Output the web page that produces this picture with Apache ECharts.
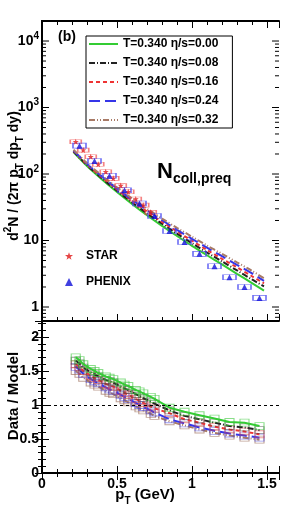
<!DOCTYPE html>
<html><head><meta charset="utf-8">
<script src="https://cdn.jsdelivr.net/npm/echarts@6/dist/echarts.min.js"></script>
<style>html,body{margin:0;padding:0;background:#fff}#c{width:291px;height:511px}</style>
</head><body><div id="c"></div>
<script>
// ---- data ----
const modelNames = ['T=0.340 η/s=0.00','T=0.340 η/s=0.08','T=0.340 η/s=0.16','T=0.340 η/s=0.24','T=0.340 η/s=0.32'];
const pTModel   = [0.21,0.3,0.4,0.5,0.6,0.7,0.8,0.9,1.0,1.1,1.2,1.3,1.4,1.48];
const modelEta00 = [214,132,83,53.7,35.5,24,16.6,11.7,8.3,6.0,4.37,3.16,2.29,1.76];
const modelEta08 = [218,136,86,56,37.5,25.6,17.9,12.7,9.1,6.6,4.85,3.55,2.6,2.05];
const modelEta16 = [222,139,89,58.5,39.5,27.2,19.1,13.7,9.9,7.2,5.3,3.95,2.9,2.27];
const modelEta24 = [226,142,91.5,60.5,41,28.5,20.2,14.5,10.6,7.8,5.8,4.3,3.2,2.48];
const modelEta32 = [232,146,94.5,63,43,30,21.4,15.5,11.4,8.4,6.3,4.7,3.5,2.7];

const pTStar = [0.225,0.275,0.325,0.375,0.425,0.475,0.525,0.575,0.625,0.675,0.725];
const yStar  = [306,229,182,140,108,86,67,54,42,34,26.5];
const pTPhenix = [0.25,0.35,0.45,0.55,0.65,0.75,0.85,0.95,1.05,1.15,1.25,1.35,1.45];
const yPhenix  = [267,157,94,57,36,23.4,13.9,9.5,6.3,4.1,2.8,2.0,1.37];

const pTRatio = [0.225,0.25,0.275,0.325,0.35,0.375,0.425,0.45,0.475,0.525,0.55,0.575,0.625,0.65,0.675,0.725,0.75,0.85,0.95,1.05,1.15,1.25,1.35,1.45];
const ratioEta00 = [1.70,1.66,1.60,1.53,1.50,1.47,1.42,1.40,1.38,1.33,1.30,1.28,1.22,1.20,1.17,1.12,1.09,0.96,0.90,0.85,0.80,0.75,0.74,0.69];
const ratioEta08 = [1.65,1.61,1.55,1.48,1.45,1.42,1.37,1.35,1.33,1.27,1.24,1.22,1.16,1.13,1.10,1.05,1.02,0.92,0.84,0.79,0.74,0.69,0.67,0.63];
const ratioEta16 = [1.60,1.56,1.50,1.43,1.40,1.37,1.31,1.29,1.27,1.21,1.18,1.15,1.09,1.06,1.03,0.98,0.95,0.88,0.79,0.74,0.68,0.64,0.61,0.57];
const ratioEta24 = [1.56,1.52,1.46,1.38,1.35,1.32,1.26,1.23,1.21,1.15,1.12,1.09,1.03,1.00,0.97,0.92,0.89,0.79,0.73,0.67,0.62,0.58,0.55,0.52];
const ratioEta32 = [1.50,1.46,1.40,1.33,1.30,1.27,1.21,1.18,1.16,1.10,1.07,1.04,0.98,0.95,0.92,0.87,0.84,0.76,0.70,0.64,0.59,0.55,0.52,0.49];

const xTickLabels = ['0','0.5','1','1.5'];
const logDecades = [0,1,2,3,4];

// ---- styling ----
const FONT = 'Liberation Sans';
const colors = ['#33cc33','#222222','#ee3333','#3535e8','#a87a66'];
const boxColors = ['rgba(60,200,60,0.6)','rgba(60,60,60,0.55)','rgba(230,70,70,0.55)','rgba(70,70,230,0.55)','rgba(150,100,80,0.6)'];
const dashes = ['solid',[6,2,1,2],[4,3],[11,5],[6,2,1,2,1,2]];
const models = [modelEta00,modelEta08,modelEta16,modelEta24,modelEta32];
const ratios = [ratioEta00,ratioEta08,ratioEta16,ratioEta24,ratioEta32];
const starPath = 'path://M0,-10 L2.35,-3.24 9.51,-3.09 3.8,1.24 5.88,8.09 0,4 -5.88,8.09 -3.8,1.24 -9.51,-3.09 -2.35,-3.24Z';

const Y_MIN = 0.616, Y_MAX = 20000;
const logTicks = [];
for (let d = -1; d <= 4; d++) for (let k = 1; k <= 9; k++) {
  const v = k * Math.pow(10, d);
  if (v > Y_MIN && v < Y_MAX) logTicks.push([0.5, v, k === 1 ? 7 : 4]);
}

const zip = (a, b) => a.map((v, i) => [v, b[i]]);
const axLine = {show:true, lineStyle:{color:'#000', width:2}};
const tick = {show:true, inside:true, length:7, lineStyle:{color:'#000', width:1}};
const minor = {show:true, splitNumber:5, length:4, lineStyle:{color:'#000', width:1}};
const lblFont = {fontFamily:FONT, fontWeight:'bold', fontSize:14, color:'#000'};

function xAx(grid, pos, showLabel) {
  return {type:'value', gridIndex:grid, position:pos, min:0, max:1.58, interval:0.5,
    axisLine:axLine, axisTick:tick, minorTick:minor, splitLine:{show:false},
    axisLabel:{show:showLabel, ...lblFont, margin:4, showMaxLabel:false,
      formatter:v => xTickLabels[Math.round(v/0.5)] || ''}};
}
function yLog(pos, showLabel) {
  return {type:'log', logBase:10, gridIndex:0, position:pos, min:Y_MIN, max:Y_MAX,
    axisLine:axLine, axisTick:{show:false}, splitLine:{show:false},
    axisLabel:{show:showLabel, ...lblFont, margin:3, showMinLabel:false, showMaxLabel:false,
      formatter:v => { const n = Math.round(Math.log10(v)); if (!logDecades.includes(n)) return '';
        return n === 0 ? '{b|1}' : n === 1 ? '{b|10}' : '{b|10}{s|' + n + '}'; },
      rich:{b:{fontFamily:FONT, fontWeight:'bold', fontSize:14, lineHeight:20},
            s:{fontFamily:FONT, fontWeight:'bold', fontSize:10, lineHeight:10, verticalAlign:'top'}}}};
}
function yLin(pos, showLabel) {
  return {type:'value', gridIndex:1, position:pos, min:0, max:2.235, interval:0.5,
    axisLine:axLine, axisTick:tick, minorTick:minor, splitLine:{show:false},
    axisLabel:{show:showLabel, ...lblFont, margin:3, showMaxLabel:false}};
}

const series = [];
series.push({type:'custom', xAxisIndex:0, yAxisIndex:0, silent:true, z:20, data:logTicks,
  renderItem:(params, api) => {
    const y = api.coord([0.5, api.value(1)])[1];
    const len = api.value(2), cs = params.coordSys;
    return {type:'group', children:[
      {type:'line', shape:{x1:cs.x, y1:y, x2:cs.x+len, y2:y}, style:{stroke:'#000', lineWidth:1}},
      {type:'line', shape:{x1:cs.x+cs.width-len, y1:y, x2:cs.x+cs.width, y2:y}, style:{stroke:'#000', lineWidth:1}}]};
  }});
models.forEach((m, i) => series.push({name:modelNames[i], type:'line', xAxisIndex:0, yAxisIndex:0,
  data:zip(pTModel, m), symbol:'none', smooth:0.3, z:3,
  lineStyle:{color:colors[i], width:2, type:dashes[i]}, itemStyle:{color:colors[i], opacity:0}}));
series.push({name:'STAR sys', type:'scatter', xAxisIndex:0, yAxisIndex:0, data:zip(pTStar, yStar),
  symbol:'rect', symbolSize:[11,4], z:4,
  itemStyle:{color:'rgba(0,0,0,0)', borderColor:'rgba(240,60,60,0.8)', borderWidth:1}});
series.push({name:'PHENIX sys', type:'scatter', xAxisIndex:0, yAxisIndex:0, data:zip(pTPhenix, yPhenix),
  symbol:'rect', symbolSize:[13,5], z:4,
  itemStyle:{color:'rgba(0,0,0,0)', borderColor:'#4848f0', borderWidth:1}});
series.push({name:'STAR', type:'scatter', xAxisIndex:0, yAxisIndex:0, data:zip(pTStar, yStar),
  symbol:starPath, symbolSize:6, z:5, itemStyle:{color:'#e01818'}});
series.push({name:'PHENIX', type:'scatter', xAxisIndex:0, yAxisIndex:0, data:zip(pTPhenix, yPhenix),
  symbol:'triangle', symbolSize:6, z:5, itemStyle:{color:'#1010d8'}});
ratios.forEach((r, i) => series.push({name:'ratio ' + i, type:'line', xAxisIndex:2, yAxisIndex:2,
  data:zip(pTRatio, r), symbol:'rect', symbolSize:[9,7], z:3 + (4 - i) * 0.1,
  lineStyle:{color:colors[i], width:2, type:dashes[i]},
  itemStyle:{color:'rgba(0,0,0,0)', borderColor:boxColors[i], borderWidth:1},
  markLine: i === 0 ? {silent:true, symbol:'none', label:{show:false},
    lineStyle:{color:'#000', width:1, type:[3,3]}, data:[{yAxis:1}]} : undefined}));

const chart = echarts.init(document.getElementById('c'), null, {renderer:'canvas'});
chart.setOption({
  animation:false,
  backgroundColor:'#fff',
  grid:[{left:42, top:21, width:237, height:300}, {left:42, top:321, width:237, height:152}],
  xAxis:[xAx(0,'bottom',false), xAx(0,'top',false), xAx(1,'bottom',true), xAx(1,'top',false)],
  yAxis:[yLog('left',true), yLog('right',false), yLin('left',true), yLin('right',false)],
  legend:[
    {data:modelNames, orient:'vertical', left:86, top:36, padding:[2,14,2,2], itemGap:7,
     itemWidth:29, itemHeight:12, borderColor:'#000', borderWidth:1, backgroundColor:'#fff',
     itemStyle:{opacity:0},
     selectedMode:false, textStyle:{fontFamily:FONT, fontWeight:'bold', fontSize:12, color:'#000'}},
    {data:[{name:'STAR', icon:starPath}, {name:'PHENIX', icon:'triangle'}], orient:'vertical',
     left:65, top:250, padding:0, itemGap:14, itemWidth:8, itemHeight:8, selectedMode:false,
     textStyle:{fontFamily:FONT, fontWeight:'bold', fontSize:12, color:'#000', padding:[0,0,0,8]}}
  ],
  graphic:[
    {type:'text', x:58, y:37, style:{text:'(b)', fontFamily:FONT, fontWeight:'bold', fontSize:14, fill:'#000', verticalAlign:'middle'}},
    {type:'text', x:157, y:172, style:{text:'{n|N}{s|coll,preq}', verticalAlign:'middle', fill:'#000',
      rich:{n:{fontFamily:FONT, fontWeight:'bold', fontSize:22, lineHeight:28},
            s:{fontFamily:FONT, fontWeight:'bold', fontSize:14, lineHeight:14, verticalAlign:'bottom'}}}},
    {type:'text', x:14, y:176, rotation:Math.PI/2, style:{
      text:'{a|d}{p|2}{a|N / (2π p}{b|T}{a| dp}{b|T}{a| dy)}', align:'center', verticalAlign:'middle', fill:'#000',
      rich:{a:{fontFamily:FONT, fontWeight:'bold', fontSize:14, lineHeight:22},
            p:{fontFamily:FONT, fontWeight:'bold', fontSize:10, lineHeight:10, verticalAlign:'top'},
            b:{fontFamily:FONT, fontWeight:'bold', fontSize:10, lineHeight:10, verticalAlign:'bottom'}}}},
    {type:'text', x:14, y:396, rotation:Math.PI/2, style:{text:'Data / Model', align:'center', verticalAlign:'middle',
      fontFamily:FONT, fontWeight:'bold', fontSize:15, fill:'#000'}},
    {type:'text', x:145, y:495, style:{text:'{a|p}{b|T}{a| (GeV)}', align:'center', verticalAlign:'middle', fill:'#000',
      rich:{a:{fontFamily:FONT, fontWeight:'bold', fontSize:15, lineHeight:22},
            b:{fontFamily:FONT, fontWeight:'bold', fontSize:10, lineHeight:10, verticalAlign:'bottom'}}}}
  ],
  series:series
});
</script></body></html>
